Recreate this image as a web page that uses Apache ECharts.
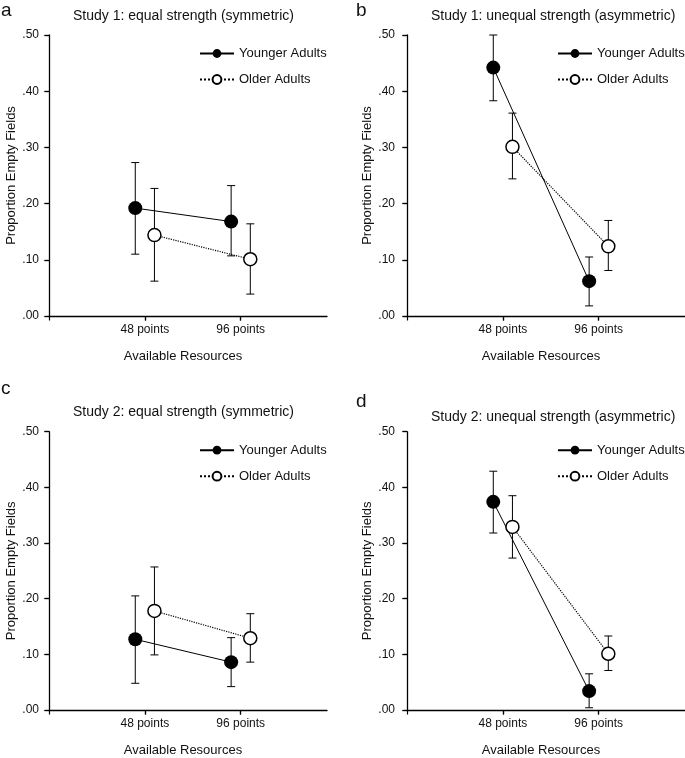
<!DOCTYPE html>
<html>
<head>
<meta charset="utf-8">
<script src="https://cdn.jsdelivr.net/npm/echarts@6/dist/echarts.min.js"></script>
<style>
html,body{margin:0;padding:0;background:#fff;}
#chart{width:685px;height:758px;}
</style>
</head>
<body>
<div id="chart"></div>
<script>
// ---- data ----
const categories = ['48 points', '96 points'];
const yTickLabels = ['.00', '.10', '.20', '.30', '.40', '.50'];
const seriesNames = ['Younger Adults', 'Older Adults'];
const panelLetters = ['a', 'b', 'c', 'd'];
const panelTitles = [
  'Study 1: equal strength (symmetric)',
  'Study 1: unequal strength (asymmetric)',
  'Study 2: equal strength (symmetric)',
  'Study 2: unequal strength (asymmetric)'
];
const xAxisName = 'Available Resources';
const yAxisName = 'Proportion Empty Fields';

// panel a
const aYoungerMean = [0.192, 0.168];
const aYoungerLow  = [0.110, 0.107];
const aYoungerHigh = [0.273, 0.232];
const aOlderMean   = [0.144, 0.101];
const aOlderLow    = [0.062, 0.039];
const aOlderHigh   = [0.227, 0.164];
// panel b
const bYoungerMean = [0.442, 0.062];
const bYoungerLow  = [0.383, 0.018];
const bYoungerHigh = [0.500, 0.105];
const bOlderMean   = [0.301, 0.124];
const bOlderLow    = [0.244, 0.081];
const bOlderHigh   = [0.361, 0.170];
// panel c
const cYoungerMean = [0.127, 0.086];
const cYoungerLow  = [0.048, 0.042];
const cYoungerHigh = [0.205, 0.130];
const cOlderMean   = [0.178, 0.129];
const cOlderLow    = [0.099, 0.086];
const cOlderHigh   = [0.257, 0.173];
// panel d
const dYoungerMean = [0.374, 0.034];
const dYoungerLow  = [0.318, 0.004];
const dYoungerHigh = [0.429, 0.065];
const dOlderMean   = [0.329, 0.101];
const dOlderLow    = [0.273, 0.071];
const dOlderHigh   = [0.385, 0.133];

const panels = [
  {y: [aYoungerMean, aYoungerLow, aYoungerHigh], o: [aOlderMean, aOlderLow, aOlderHigh]},
  {y: [bYoungerMean, bYoungerLow, bYoungerHigh], o: [bOlderMean, bOlderLow, bOlderHigh]},
  {y: [cYoungerMean, cYoungerLow, cYoungerHigh], o: [cOlderMean, cOlderLow, cOlderHigh]},
  {y: [dYoungerMean, dYoungerLow, dYoungerHigh], o: [dOlderMean, dOlderLow, dOlderHigh]}
];

// ---- layout / style ----
const FONT = "'Liberation Sans', Arial, Helvetica, sans-serif";
const TXT = '#111';
const layout = [
  {left: 49,  top: 35,    h: 281,   titleTop: 8,   letterLeft: 1,   letterTop: 1,   yLabelMargin: 10, yNameGap: 28},
  {left: 407, top: 35,    h: 281,   titleTop: 8,   letterLeft: 356, letterTop: 1,   yLabelMargin: 12, yNameGap: 32},
  {left: 49,  top: 431.7, h: 280.6, titleTop: 404, letterLeft: 1,   letterTop: 379, yLabelMargin: 10, yNameGap: 28},
  {left: 407, top: 431.7, h: 280.6, titleTop: 409, letterLeft: 356, letterTop: 392, yLabelMargin: 12, yNameGap: 32}
];
const GRID_W = 278;
const X_MAX = 2.9;
const OFFSET = 0.1;
const TICK = 4.5;
const CAP = 4;

const grid = [], xAxis = [], yAxis = [], series = [], title = [], legend = [];

function errRender(params, api) {
  const x = api.value(0), lo = api.value(1), hi = api.value(2);
  const pl = api.coord([x, lo]);
  const ph = api.coord([x, hi]);
  const st = {stroke: '#000', lineWidth: 1};
  return {type: 'group', children: [
    {type: 'line', shape: {x1: pl[0], y1: pl[1], x2: ph[0], y2: ph[1]}, style: st},
    {type: 'line', shape: {x1: ph[0] - CAP, y1: ph[1], x2: ph[0] + CAP, y2: ph[1]}, style: st},
    {type: 'line', shape: {x1: pl[0] - CAP, y1: pl[1], x2: pl[0] + CAP, y2: pl[1]}, style: st}
  ]};
}

panels.forEach((p, g) => {
  const L = layout[g];
  grid.push({left: L.left, top: L.top, width: GRID_W, height: L.h, containLabel: false});

  title.push({
    text: panelLetters[g], left: L.letterLeft, top: L.letterTop, padding: 0,
    textStyle: {fontFamily: FONT, fontSize: 19, fontWeight: 'normal', color: TXT}
  });
  title.push({
    text: panelTitles[g], left: L.left + 24, top: L.titleTop, padding: 0,
    textStyle: {fontFamily: FONT, fontSize: 14, fontWeight: 'normal', color: TXT, lineHeight: 16}
  });

  legend.push({
    data: seriesNames, orient: 'vertical', left: L.left + 150, top: L.top + 11, padding: 0,
    itemWidth: 34, itemHeight: 11, itemGap: 11, selectedMode: false,
    textStyle: {fontFamily: FONT, fontSize: 13, color: TXT, lineHeight: 15}
  });

  // main x axis
  xAxis.push({
    gridIndex: g, type: 'value', min: 0, max: X_MAX,
    name: xAxisName, nameLocation: 'middle', nameGap: 34,
    nameTextStyle: {fontFamily: FONT, fontSize: 13, color: TXT, padding: [0, 10, 0, 0]},
    axisLine: {show: true, lineStyle: {color: '#000', width: 1.3}},
    axisTick: {show: true, length: TICK, inside: false, customValues: [0, 1, 2], lineStyle: {color: '#000', width: 1.2}},
    axisLabel: {show: true, customValues: [1, 2], margin: 8, fontFamily: FONT, fontSize: 12, color: TXT,
      formatter: v => categories[Math.round(v) - 1] || ''},
    splitLine: {show: false}
  });
  // inner ticks x
  xAxis.push({
    gridIndex: g, type: 'value', min: 0, max: X_MAX,
    axisLine: {show: false},
    axisTick: {show: true, length: TICK, inside: true, customValues: [1, 2], lineStyle: {color: '#000', width: 1.2}},
    axisLabel: {show: false}, splitLine: {show: false}
  });
  // main y axis
  yAxis.push({
    gridIndex: g, type: 'value', min: 0, max: 0.5, interval: 0.1,
    name: yAxisName, nameLocation: 'middle', nameGap: L.yNameGap,
    nameTextStyle: {fontFamily: FONT, fontSize: 13, color: TXT},
    axisLine: {show: true, lineStyle: {color: '#000', width: 1.3}},
    axisTick: {show: true, length: TICK, inside: false, lineStyle: {color: '#000', width: 1.2}},
    axisLabel: {show: true, margin: L.yLabelMargin, fontFamily: FONT, fontSize: 12, color: TXT,
      formatter: v => yTickLabels[Math.round(v * 10)]},
    splitLine: {show: false}
  });
  // inner ticks y
  yAxis.push({
    gridIndex: g, type: 'value', min: 0, max: 0.5, interval: 0.1,
    axisLine: {show: false},
    axisTick: {show: true, length: TICK, inside: true, lineStyle: {color: '#000', width: 1.2}},
    axisLabel: {show: false}, splitLine: {show: false}
  });

  const xi = 2 * g, yi = 2 * g;
  const groups = [
    {name: seriesNames[0], d: p.y, off: -OFFSET, fill: '#000', type: 'solid', size: 14, lw: 1},
    {name: seriesNames[1], d: p.o, off: OFFSET, fill: '#fff', type: 'dotted', size: 13, lw: 1.2}
  ];
  groups.forEach(s => {
    const low = s.d[1], high = s.d[2];
    series.push({
      type: 'custom', name: s.name + ' error', xAxisIndex: xi, yAxisIndex: yi, z: 1,
      renderItem: errRender, silent: true,
      encode: {x: 0, y: [1, 2]},
      data: categories.map((c, i) => [i + 1 + s.off, low[i], high[i]])
    });
  });
  groups.forEach(s => {
    const mean = s.d[0];
    series.push({
      type: 'line', name: s.name, xAxisIndex: xi, yAxisIndex: yi, z: 3,
      symbol: 'circle', symbolSize: s.size, showSymbol: true,
      itemStyle: {color: s.fill, borderColor: '#000', borderWidth: s.fill === '#fff' ? 1.5 : 0},
      lineStyle: {color: '#000', width: s.lw, type: s.type},
      emphasis: {disabled: true},
      animation: false,
      data: categories.map((c, i) => [i + 1 + s.off, mean[i]])
    });
  });
});

const chart = echarts.init(document.getElementById('chart'), null, {renderer: 'canvas'});
chart.setOption({
  backgroundColor: '#fff',
  animation: false,
  title, legend, grid, xAxis, yAxis, series
});
</script>
</body>
</html>
